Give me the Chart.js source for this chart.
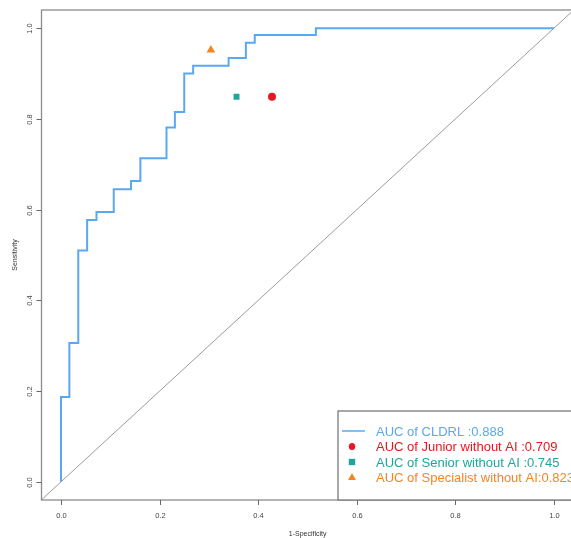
<!DOCTYPE html>
<html>
<head>
<meta charset="utf-8">
<script src="https://cdn.jsdelivr.net/npm/chart.js@4/dist/chart.umd.min.js"></script>
<style>
html,body{margin:0;padding:0;background:#fff;overflow:hidden;}
#wrap{width:571px;height:538px;position:relative;}
</style>
</head>
<body>
<div id="wrap"><canvas id="c" width="571" height="538"></canvas></div>
<script>
// ROC curve corner coordinates (1-Specificity, Sensitivity)
const rocFpr = [0, 0, 0.017, 0.017, 0.035, 0.035, 0.053, 0.053, 0.072, 0.072, 0.107, 0.107, 0.142, 0.142, 0.161, 0.161, 0.214, 0.214, 0.231, 0.231, 0.250, 0.250, 0.268, 0.268, 0.340, 0.340, 0.375, 0.375, 0.393, 0.393, 0.517, 0.517, 1.0];
const rocTpr = [0, 0.187, 0.187, 0.306, 0.306, 0.510, 0.510, 0.577, 0.577, 0.595, 0.595, 0.645, 0.645, 0.663, 0.663, 0.713, 0.713, 0.781, 0.781, 0.815, 0.815, 0.900, 0.900, 0.917, 0.917, 0.934, 0.934, 0.968, 0.968, 0.985, 0.985, 1.0, 1.0];
// Reader operating points
const readerNames = ["Junior without AI", "Senior without AI", "Specialist without AI"];
const readerFpr = [0.428, 0.356, 0.304];
const readerTpr = [0.849, 0.849, 0.952];
const legendLabels = ["AUC of CLDRL :0.888", "AUC of Junior without AI :0.709", "AUC of Senior without AI :0.745", "AUC of Specialist without AI:0.823"];
// Reference diagonal
const diagX = [-0.04, 1.04];
const diagY = [-0.04, 1.04];
const tickValues = [0.0, 0.2, 0.4, 0.6, 0.8, 1.0];
const xTitle = "1-Specificity";
const yTitle = "Sensitivity";

const colCurve = "#5aa8f2";
const colRed = "#e8161e";
const colTeal = "#1fa69c";
const colOrange = "#f5851f";

const pts = (xs, ys) => xs.map((x, i) => ({x: x, y: ys[i]}));

const fontTick = "7.5px 'Liberation Sans', Arial, sans-serif";

const decor = {
  id: 'decor',
  afterDatasetsDraw(chart) {
    const ctx = chart.ctx;
    const xs = chart.scales.x, ys = chart.scales.y;
    const a = chart.chartArea;
    ctx.save();
    // box
    ctx.strokeStyle = '#8c8c8c';
    ctx.lineWidth = 1.3;
    ctx.strokeRect(a.left, a.top, chart.width + 10 - a.left, a.bottom - a.top);
    // ticks
    ctx.lineWidth = 1;
    ctx.strokeStyle = '#666';
    ctx.fillStyle = '#444';
    ctx.font = fontTick;
    tickValues.forEach(v => {
      const px = Math.round(xs.getPixelForValue(v)) + 0.5;
      ctx.beginPath(); ctx.moveTo(px, a.bottom); ctx.lineTo(px, a.bottom + 5); ctx.stroke();
      ctx.textAlign = 'center'; ctx.textBaseline = 'middle';
      ctx.fillText(v.toFixed(1), px, a.bottom + 16);
      const py = Math.round(ys.getPixelForValue(v)) + 0.5;
      ctx.beginPath(); ctx.moveTo(a.left, py); ctx.lineTo(a.left - 5, py); ctx.stroke();
      ctx.save();
      ctx.translate(a.left - 11.5, py);
      ctx.rotate(-Math.PI / 2);
      ctx.fillText(v.toFixed(1), 0, 0);
      ctx.restore();
    });
    // axis titles
    ctx.fillStyle = '#333';
    ctx.font = "7px 'Liberation Sans', Arial, sans-serif";
    ctx.textAlign = 'center'; ctx.textBaseline = 'middle';
    ctx.fillText(xTitle, (a.left + xs.getPixelForValue(1.04)) / 2, 534.5);
    ctx.save();
    ctx.translate(15, (a.top + a.bottom) / 2);
    ctx.rotate(-Math.PI / 2);
    ctx.fillText(yTitle, 0, 0);
    ctx.restore();
    // legend
    const lx = 338, ly = 411, lb = a.bottom;
    ctx.fillStyle = '#fff';
    ctx.fillRect(lx, ly, chart.width - lx, lb - ly);
    ctx.strokeStyle = '#7a7a7a';
    ctx.lineWidth = 1.3;
    ctx.strokeRect(lx, ly, chart.width + 20 - lx, lb - ly);
    const rows = [431, 446.5, 462, 477];
    const cols = [colCurve, colRed, colTeal, colOrange];
    ctx.font = "13px 'Liberation Sans', Arial, sans-serif";
    ctx.textAlign = 'left'; ctx.textBaseline = 'middle';
    rows.forEach((ry, i) => {
      ctx.fillStyle = cols[i];
      ctx.fillText(legendLabels[i], 376, ry + 1);
      const sx = 352;
      if (i === 0) {
        ctx.strokeStyle = colCurve; ctx.lineWidth = 1.5;
        ctx.beginPath(); ctx.moveTo(342, ry); ctx.lineTo(365, ry); ctx.stroke();
      } else if (i === 1) {
        ctx.beginPath(); ctx.ellipse(sx, ry, 3.2, 3.6, 0, 0, Math.PI * 2); ctx.fill();
      } else if (i === 2) {
        ctx.fillRect(sx - 3.2, ry - 3.2, 6.4, 6.4);
      } else {
        ctx.beginPath(); ctx.moveTo(sx, ry - 4); ctx.lineTo(sx + 4, ry + 3); ctx.lineTo(sx - 4, ry + 3); ctx.closePath(); ctx.fill();
      }
    });
    ctx.restore();
  }
};

const chart = new Chart(document.getElementById('c'), {
  type: 'scatter',
  data: {
    datasets: [
      {label: 'diag', data: pts(diagX, diagY), showLine: true, borderColor: '#9b9b9b', borderWidth: 1, pointRadius: 0, clip: false, order: 5},
      {label: legendLabels[0], data: pts(rocFpr, rocTpr), showLine: true, borderColor: colCurve, borderWidth: 2, pointRadius: 0, order: 4},
      {label: readerNames[0], data: [{x: readerFpr[0], y: readerTpr[0]}], pointStyle: 'circle', pointRadius: 4, backgroundColor: colRed, borderColor: colRed, borderWidth: 0},
      {label: readerNames[1], data: [{x: readerFpr[1], y: readerTpr[1]}], pointStyle: 'rect', pointRadius: 4.2, backgroundColor: colTeal, borderColor: colTeal, borderWidth: 0},
      {label: readerNames[2], data: [{x: readerFpr[2], y: readerTpr[2]}], pointStyle: 'triangle', pointRadius: 5, backgroundColor: colOrange, borderColor: colOrange, borderWidth: 0}
    ]
  },
  options: {
    responsive: false,
    animation: false,
    devicePixelRatio: 1,
    layout: {padding: {left: 41.5, top: 10, right: 0, bottom: 38}},
    plugins: {legend: {display: false}, tooltip: {enabled: false}},
    scales: {
      x: {type: 'linear', min: -0.04, max: 1.0345, display: false},
      y: {type: 'linear', min: -0.04, max: 1.04, display: false}
    }
  },
  plugins: [decor]
});
// keep the R-style scale (0 at x=61, 1 at x=554) regardless of auto padding on the right
const a0 = chart.chartArea;
const unit = 493;
chart.options.scales.x.min = (a0.left - 61) / unit;
chart.options.scales.x.max = (a0.right - 61) / unit;
chart.update();
</script>
</body>
</html>
